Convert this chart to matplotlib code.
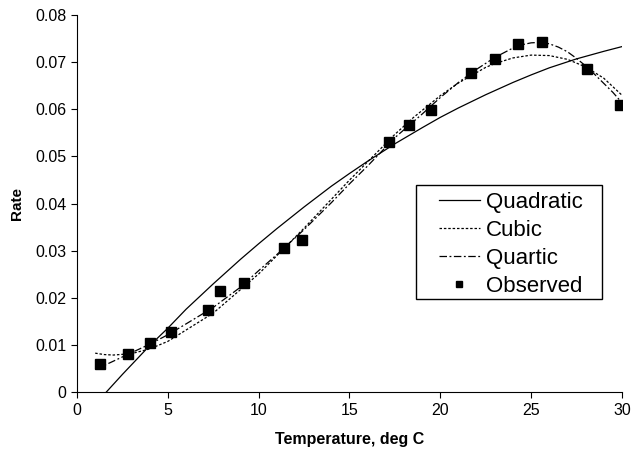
import numpy as np
from matplotlib import pyplot as plt
from matplotlib.patches import Rectangle

plt.rcParams['font.family'] = ['Liberation Sans', 'DejaVu Sans']

# observed points
temp_obs = [1.27, 2.79, 4.0, 5.19, 7.19, 7.87, 9.19, 11.39, 12.38,
            17.19, 18.29, 19.5, 21.68, 23.0, 24.29, 25.61, 28.1, 29.89]
rate_obs = [0.0060, 0.0081, 0.0104, 0.0128, 0.0175, 0.0214, 0.0232, 0.0306, 0.0323,
            0.0530, 0.0567, 0.0598, 0.0678, 0.0707, 0.0738, 0.0742, 0.0686, 0.0610]

# fitted curves
x_quad = [1.6, 2.5, 4, 5, 6, 7.5, 9, 10, 11, 12.5, 14, 15, 16, 17.5, 19, 20,
          21, 22.5, 24, 25, 26, 27.5, 29, 30]
y_quad = [0.0, 0.0038, 0.0099, 0.0136, 0.0176, 0.0230, 0.0282, 0.0315, 0.0347,
          0.0393, 0.0437, 0.0464, 0.0490, 0.0527, 0.0561, 0.0583, 0.0603, 0.0631,
          0.0657, 0.0673, 0.0688, 0.0707, 0.0723, 0.0733]

x_cub = [1, 1.5, 2, 3, 4, 5, 7.5, 10, 12.5, 15, 17.5, 18.5, 20, 21, 22.5, 23,
         24, 25, 26, 27, 28, 29, 30]
y_cub = [0.0083, 0.0080, 0.0079, 0.0082, 0.0092, 0.0108, 0.0168, 0.0251, 0.0348,
         0.0450, 0.0547, 0.0582, 0.0629, 0.0656, 0.0689, 0.0697, 0.0709, 0.0715,
         0.0714, 0.0706, 0.0690, 0.0666, 0.0630]

x_quart = [1, 1.5, 2, 3, 4, 5, 6, 7.5, 9, 10, 11, 12.5, 14, 15, 16, 17.5, 19, 20,
           21, 22, 23, 24, 24.5, 25, 25.5, 26, 26.5, 27, 27.5, 28, 28.5, 29, 29.5, 30]
y_quart = [0.0049, 0.0057, 0.0066, 0.0084, 0.0102, 0.0122, 0.0145, 0.0180, 0.0223,
           0.0258, 0.0292, 0.0345, 0.0402, 0.0442, 0.0480, 0.0540, 0.0590, 0.0625,
           0.0657, 0.0685, 0.0710, 0.0730, 0.0737, 0.0741, 0.0742, 0.0739, 0.0732,
           0.0722, 0.0708, 0.0692, 0.0674, 0.0655, 0.0636, 0.0614]

fig = plt.figure(figsize=(6.34, 4.55), dpi=100)
ax = fig.add_axes([0.1215, 0.1378, 0.8595, 0.8292])

ax.plot(x_quad, y_quad, color='black', lw=0.9, label='Quadratic')
ax.plot(x_cub, y_cub, color='black', lw=0.9, ls=(0, (2, 1.5)), label='Cubic')
ax.plot(x_quart, y_quart, color='black', lw=0.9, ls=(0, (6, 2, 1.5, 2)), label='Quartic')
ax.plot(temp_obs, rate_obs, 's', color='black', ms=7.5, label='Observed')

ax.set_xlim(0, 30)
ax.set_ylim(0, 0.08)
ax.set_xticks(np.arange(0, 31, 5))
ax.set_yticks(np.arange(0, 0.081, 0.01))
ax.set_yticklabels(['0', '0.01', '0.02', '0.03', '0.04', '0.05', '0.06', '0.07', '0.08'])
ax.spines['top'].set_visible(False)
ax.spines['right'].set_visible(False)
ax.tick_params(direction='out', length=4, labelsize=11.5, colors='black')
ax.set_xlabel('Temperature, deg C', fontsize=11.5, fontweight='bold', labelpad=10)
ax.set_ylabel('Rate', fontsize=11, fontweight='bold', labelpad=8)

# legend box drawn separately so the padding matches the original
ax.add_patch(Rectangle((0.622, 0.247), 0.341, 0.302, transform=ax.transAxes,
                       fill=False, edgecolor='black', lw=1.0, zorder=5))
ax.legend(loc='upper left', bbox_to_anchor=(0.664, 0.532), fontsize=16,
          frameon=False, handlelength=1.85, borderpad=0, labelspacing=0.32,
          handletextpad=0.27, markerscale=0.65, borderaxespad=0)

fig.savefig('out.png', dpi=100)
